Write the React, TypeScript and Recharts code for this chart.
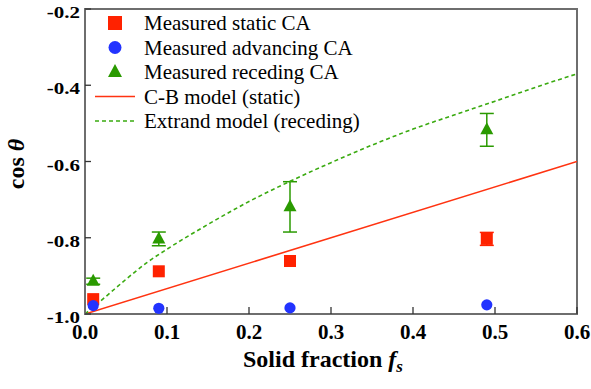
import React from "react";
import {
  ComposedChart,
  XAxis,
  YAxis,
  Scatter,
  Line,
  ErrorBar,
  ReferenceArea,
  Customized,
} from "recharts";

// ---- data ----
const xTicks = [0, 0.1, 0.2, 0.3, 0.4, 0.5, 0.6];
const yTicks = [-1.0, -0.8, -0.6, -0.4, -0.2];

const staticF = [0.01, 0.09, 0.25, 0.49];
const staticCos = [-0.961, -0.888, -0.861, -0.803];
const staticErr = [0, 0, 0, 0.017];

const advancingF = [0.01, 0.09, 0.25, 0.49];
const advancingCos = [-0.978, -0.985, -0.984, -0.976];

const recedingF = [0.01, 0.09, 0.25, 0.49];
const recedingCos = [-0.914, -0.803, -0.719, -0.517];
const recedingErr = [0.008, 0.018, 0.066, 0.043];

const cbF = [0, 0.6];
const cbCos = [-1.0, -0.6];

const extrandF = [0, 0.01, 0.025, 0.05, 0.075, 0.1, 0.15, 0.2, 0.25, 0.3, 0.35, 0.4, 0.45, 0.5, 0.55, 0.6];
const extrandCos = [-1.0, -0.982, -0.955, -0.909, -0.866, -0.83, -0.765, -0.705, -0.652, -0.603, -0.557, -0.515, -0.478, -0.442, -0.405, -0.37];

const legendLabels = [
  "Measured static CA",
  "Measured advancing CA",
  "Measured receding CA",
  "C-B model (static)",
  "Extrand model (receding)",
];

const RED = "#ff2200";
const BLUE = "#2233ff";
const GREEN = "#2a9a00";
const RED_LINE = "#ff3311";
const GREEN_LINE = "#3aaa10";
const AXIS = "#6e6e6e";
const FONT = "Liberation Serif";
const TS = { fontFamily: FONT };

const staticData = staticF.map((f, i) => ({ f, v: staticCos[i], e: staticErr[i] }));
const advancingData = advancingF.map((f, i) => ({ f, v: advancingCos[i] }));
const recedingData = recedingF.map((f, i) => ({ f, v: recedingCos[i], e: recedingErr[i] }));
const cbData = cbF.map((f, i) => ({ f, v: cbCos[i] }));
const extrandData = extrandF.map((f, i) => ({ f, v: extrandCos[i] }));

const SquareShape = (p: any) => (
  <rect x={p.cx - 6} y={p.cy - 6} width={12} height={12} fill={RED} />
);
const CircleShape = (p: any) => <circle cx={p.cx} cy={p.cy} r={5.6} fill={BLUE} />;
const TriangleShape = (p: any) => (
  <polygon
    points={`${p.cx},${p.cy - 7.5} ${p.cx + 6.5},${p.cy + 4.5} ${p.cx - 6.5},${p.cy + 4.5}`}
    fill={GREEN}
  />
);

const XTick = (p: any) => (
  <text
    x={p.x}
    y={p.y + 25}
    textAnchor="middle"
    style={TS}
    fontWeight="bold"
    fontSize={21}
    fill="#000"
  >
    {Number(p.payload.value).toFixed(1)}
  </text>
);

const YTick = (p: any) => (
  <g transform={`translate(${p.x - 5}, ${p.y + 9}) scale(1, 0.8)`}>
    <text
      x={0}
      y={0}
      textAnchor="end"
      style={TS}
      fontWeight="bold"
      fontSize={21}
      fill="#000"
    >
      {Number(p.payload.value).toFixed(1)}
    </text>
  </g>
);

const Decorations = () => {
  const rowY = [23, 47.5, 72, 96.5, 121];
  const textX = 144;
  const iconX = 115;
  return (
    <g>
      {/* y label */}
      <text
        transform="translate(24, 164) rotate(-90)"
        textAnchor="middle"
        style={TS}
        fontSize={24}
        fontWeight="bold"
        fill="#000"
      >
        cos <tspan fontStyle="italic">θ</tspan>
      </text>
      {/* x label */}
      <text x={243} y={367} style={TS} fontSize={24} fontWeight="bold" fill="#000">
        Solid fraction <tspan fontStyle="italic">f</tspan>
        <tspan fontStyle="italic" fontSize={17} dy={5}>s</tspan>
      </text>
      {/* legend */}
      <rect x={iconX - 7} y={rowY[0] - 7} width={14} height={14} fill={RED} />
      <circle cx={iconX} cy={rowY[1]} r={6.5} fill={BLUE} />
      <polygon
        points={`${iconX},${rowY[2] - 8} ${iconX + 7},${rowY[2] + 5} ${iconX - 7},${rowY[2] + 5}`}
        fill={GREEN}
      />
      <line x1={95} x2={135} y1={rowY[3]} y2={rowY[3]} stroke={RED_LINE} strokeWidth={1.6} />
      <line
        x1={95}
        x2={135}
        y1={rowY[4]}
        y2={rowY[4]}
        stroke={GREEN_LINE}
        strokeWidth={1.6}
        strokeDasharray="4 3"
      />
      {legendLabels.map((t, i) => (
        <text key={t} x={textX} y={rowY[i] + 7} style={TS} fontSize={21} fill="#000">
          {t}
        </text>
      ))}
    </g>
  );
};

export default function App() {
  return (
    <div style={{ position: "absolute", left: 0, top: 0, background: "#fff" }}>
      <ComposedChart
        width={591}
        height={389}
        margin={{ top: 9, right: 14, bottom: 0, left: 0 }}
      >
        <XAxis
          type="number"
          dataKey="f"
          domain={[0, 0.6]}
          ticks={xTicks}
          allowDataOverflow
          height={75}
          axisLine={{ stroke: AXIS, strokeWidth: 2 }}
          tickLine={{ stroke: "#333", strokeWidth: 1.3 }}
          tickSize={-7}
          tickMargin={7}
          tick={<XTick />}
          interval={0}
        />
        <YAxis
          type="number"
          domain={[-1, -0.2]}
          ticks={yTicks}
          allowDataOverflow
          width={85}
          axisLine={{ stroke: AXIS, strokeWidth: 2 }}
          tickLine={{ stroke: "#333", strokeWidth: 1.3 }}
          tickSize={-6}
          tickMargin={6}
          tick={<YTick />}
          interval={0}
        />
        <ReferenceArea
          x1={0}
          x2={0.6}
          y1={-1}
          y2={-0.2}
          fill="none"
          stroke={AXIS}
          strokeWidth={2}
          ifOverflow="visible"
        />
        <Scatter data={staticData} dataKey="v" shape={SquareShape} isAnimationActive={false}>
          <ErrorBar dataKey="e" direction="y" width={7} stroke={RED} strokeWidth={1.5} />
        </Scatter>
        <Scatter data={advancingData} dataKey="v" shape={CircleShape} isAnimationActive={false} />
        <Scatter data={recedingData} dataKey="v" shape={TriangleShape} isAnimationActive={false}>
          <ErrorBar dataKey="e" direction="y" width={7} stroke={GREEN} strokeWidth={1.5} />
        </Scatter>
        <Line
          data={cbData}
          dataKey="v"
          type="linear"
          stroke={RED_LINE}
          strokeWidth={1.6}
          dot={false}
          isAnimationActive={false}
        />
        <Line
          data={extrandData}
          dataKey="v"
          type="monotone"
          stroke={GREEN_LINE}
          strokeWidth={1.6}
          strokeDasharray="4 3"
          dot={false}
          isAnimationActive={false}
        />
        <Customized component={Decorations} />
      </ComposedChart>
    </div>
  );
}
